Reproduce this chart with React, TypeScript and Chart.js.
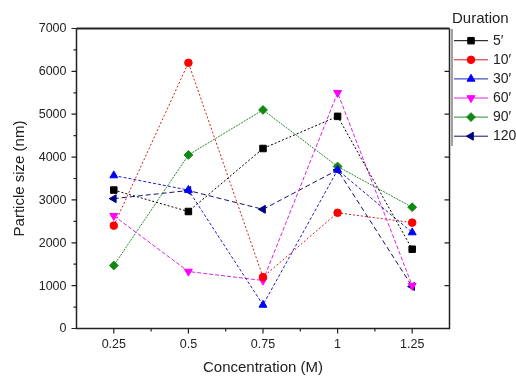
import React, { useEffect, useRef } from "react";
import { Chart, registerables } from "chart.js";
import { drawPoint } from "chart.js/helpers";

Chart.register(...registerables);

const concentrations = [0.25, 0.5, 0.75, 1, 1.25];
const xTickValues = [0.25, 0.5, 0.75, 1, 1.25];
const xTickLabels = ["0.25", "0.5", "0.75", "1", "1.25"];
const xMinorTicks = [0.375, 0.625, 0.875, 1.125];
const yTickValues = [0, 1000, 2000, 3000, 4000, 5000, 6000, 7000];
const yTickLabels = ["0", "1000", "2000", "3000", "4000", "5000", "6000", "7000"];
const yMinorTicks = [500, 1500, 2500, 3500, 4500, 5500, 6500];

const xTitle = "Concentration (M)";
const yTitle = "Particle size (nm)";
const legendTitle = "Duration";

const seriesNames = ["5′", "10′", "30′", "60′", "90′", "120′"];
const d5 = [3230, 2730, 4200, 4950, 1850];
const d10 = [2400, 6200, 1200, 2700, 2470];
const d30 = [3570, 3230, 550, 3700, 2240];
const d60 = [2630, 1330, 1120, 5500, 1000];
const d90 = [1470, 4050, 5100, 3780, 2830];
const d120 = [3030, 3220, 2780, 3700, 980];

const FONT = "'Liberation Sans', Arial, sans-serif";

export default function App() {
  const ref = useRef<HTMLCanvasElement | null>(null);

  useEffect(() => {
    const canvas = ref.current;
    if (!canvas) return;

    const mk = (
      label: string,
      values: number[],
      color: string,
      lineColor: string,
      style: string,
      rotation: number,
      radius: number,
      dash: number[]
    ) => ({
      label,
      data: concentrations.map((x, i) => ({ x, y: values[i] })),
      borderColor: lineColor,
      backgroundColor: color,
      pointBackgroundColor: color,
      pointBorderColor: color,
      pointStyle: style,
      pointRotation: rotation,
      pointRadius: radius,
      pointBorderWidth: 1,
      borderWidth: 1,
      borderDash: dash,
      tension: 0,
      showLine: true,
    });

    const datasets = [
      mk(seriesNames[0], d5, "#000000", "#000000", "rect", 0, 4.6, [2, 2]),
      mk(seriesNames[1], d10, "#ff0000", "#cc2020", "circle", 0, 3.8, [2, 2]),
      mk(seriesNames[2], d30, "#0000ff", "#2020c0", "triangle", 0, 4.6, [3, 2]),
      mk(seriesNames[3], d60, "#ff00ff", "#e020e0", "triangle", 180, 4.6, [4, 2]),
      mk(seriesNames[4], d90, "#118811", "#2a8a2a", "rectRot", 0, 4.4, [2, 1]),
      mk(seriesNames[5], d120, "#000080", "#101070", "triangle", -90, 4.6, [5, 3]),
    ];

    const framePlugin = {
      id: "frame",
      beforeDatasetsDraw(chart: any) {
        const { ctx, chartArea } = chart;
        const { left, right, top, bottom } = chartArea;
        const xs = chart.scales.x;
        const ys = chart.scales.y;
        ctx.save();
        ctx.strokeStyle = "#222222";
        ctx.lineWidth = 1.5;
        ctx.beginPath();
        ctx.moveTo(left, top);
        ctx.lineTo(left, bottom);
        ctx.lineTo(right, bottom);
        ctx.lineTo(right, top);
        ctx.stroke();
        ctx.lineWidth = 2;
        ctx.beginPath();
        ctx.moveTo(left, top);
        ctx.lineTo(right, top);
        ctx.stroke();
        ctx.lineWidth = 1.2;
        ctx.beginPath();
        yTickValues.forEach((v) => {
          const y = ys.getPixelForValue(v);
          ctx.moveTo(left - 5, y);
          ctx.lineTo(left, y);
          if (v > 0 && v < 7000) {
            ctx.moveTo(right - 5, y);
            ctx.lineTo(right, y);
          }
        });
        yMinorTicks.forEach((v) => {
          const y = ys.getPixelForValue(v);
          ctx.moveTo(left - 3, y);
          ctx.lineTo(left, y);
        });
        xTickValues.forEach((v) => {
          const x = xs.getPixelForValue(v);
          ctx.moveTo(x, bottom);
          ctx.lineTo(x, bottom + 5);
        });
        xMinorTicks.forEach((v) => {
          const x = xs.getPixelForValue(v);
          ctx.moveTo(x, bottom);
          ctx.lineTo(x, bottom + 3);
        });
        ctx.stroke();

        // tick labels
        ctx.fillStyle = "#222222";
        ctx.font = `12.5px ${FONT}`;
        ctx.textBaseline = "middle";
        ctx.textAlign = "right";
        yTickValues.forEach((v, i) => {
          ctx.fillText(yTickLabels[i], left - 10, ys.getPixelForValue(v) + 0.5);
        });
        ctx.textAlign = "center";
        xTickValues.forEach((v, i) => {
          ctx.fillText(xTickLabels[i], xs.getPixelForValue(v), bottom + 16.5);
        });

        // axis titles
        ctx.font = `15px ${FONT}`;
        ctx.fillText(xTitle, (left + right) / 2, bottom + 39);
        ctx.save();
        ctx.translate(19.5, (top + bottom) / 2);
        ctx.rotate(-Math.PI / 2);
        ctx.fillText(yTitle, 0, 0);
        ctx.restore();
        ctx.restore();
      },
    };

    const legendPlugin = {
      id: "customLegend",
      afterDraw(chart: any) {
        const { ctx } = chart;
        ctx.save();
        ctx.fillStyle = "#222222";
        ctx.font = `15px ${FONT}`;
        ctx.textAlign = "left";
        ctx.textBaseline = "middle";
        ctx.fillText(legendTitle, 452, 18.5);
        ctx.strokeStyle = "#a0a0a0";
        ctx.lineWidth = 2;
        ctx.beginPath();
        ctx.moveTo(452, 29);
        ctx.lineTo(452, 146);
        ctx.stroke();
        chart.data.datasets.forEach((ds: any, i: number) => {
          const y = 40.7 + i * 19.1;
          ctx.setLineDash([]);
          ctx.strokeStyle = ds.borderColor;
          ctx.lineWidth = 1;
          ctx.beginPath();
          ctx.moveTo(454, y);
          ctx.lineTo(488, y);
          ctx.stroke();
          ctx.fillStyle = ds.pointBackgroundColor;
          ctx.strokeStyle = ds.pointBorderColor;
          drawPoint(
            ctx,
            {
              pointStyle: ds.pointStyle,
              rotation: ds.pointRotation,
              radius: ds.pointRadius,
              borderWidth: 1,
            } as any,
            471,
            y
          );
          ctx.fillStyle = "#222222";
          ctx.font = `14px ${FONT}`;
          ctx.fillText(ds.label, 493, y);
        });
        ctx.restore();
      },
    };

    const chart = new Chart(canvas, {
      type: "scatter",
      data: { datasets: datasets as any },
      options: {
        responsive: false,
        animation: false,
        layout: { padding: { left: 0, right: 66.5, top: 28.5, bottom: 0 } },
        plugins: {
          legend: { display: false },
          tooltip: { enabled: false },
        },
        scales: {
          x: {
            type: "linear",
            min: 0.125,
            max: 1.375,
            afterBuildTicks: (s: any) => {
              s.ticks = xTickValues.map((v) => ({ value: v }));
            },
            afterFit: (s: any) => {
              s.height = 47.5;
            },
            grid: { display: false, drawTicks: false },
            border: { display: false },
            ticks: { display: false },
            title: { display: false },
          },
          y: {
            type: "linear",
            min: 0,
            max: 7000,
            afterBuildTicks: (s: any) => {
              s.ticks = yTickValues.map((v) => ({ value: v }));
            },
            afterFit: (s: any) => {
              s.width = 76.5;
            },
            grid: { display: false, drawTicks: false },
            border: { display: false },
            ticks: { display: false },
            title: { display: false },
          },
        },
      },
      plugins: [framePlugin, legendPlugin],
    });

    return () => chart.destroy();
  }, []);

  return (
    <div style={{ position: "absolute", left: 0, top: 0, width: 516, height: 376, background: "#ffffff" }}>
      <canvas ref={ref} width={516} height={376} style={{ width: 516, height: 376, display: "block" }} />
    </div>
  );
}
